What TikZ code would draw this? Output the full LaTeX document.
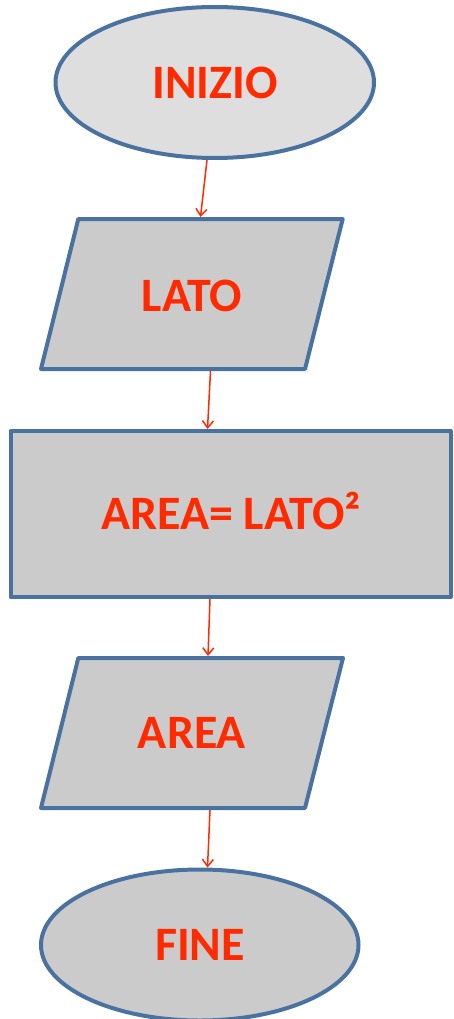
\documentclass[tikz,border=0pt]{standalone}
\usepackage{fontspec}
\setmainfont{Carlito}
\usetikzlibrary{arrows.meta}
\definecolor{edgeblue}{HTML}{4A72A0}
\definecolor{lightfill}{HTML}{DEDEDE}
\definecolor{boxfill}{HTML}{CBCBCB}
\definecolor{labelred}{HTML}{FF2A00}
\tikzset{
  shapeline/.style={draw=edgeblue, line width=4pt, line join=round},
  label text/.style={text=labelred, font=\fontsize{48}{56}\selectfont\bfseries, inner sep=0pt, anchor=base},
  flow/.style={draw=labelred, line width=1.5pt, -{Straight Barb[length=7pt,width=11pt,line width=1.5pt]}}
}
\begin{document}
\begin{tikzpicture}[x=1pt, y=-1pt]
  \useasboundingbox (0,0) rectangle (453,1019);

  % start terminal
  \draw[shapeline, fill=lightfill] (214.75,82.5) ellipse [x radius=159.25, y radius=75.5];
  \node[label text] (inizio) at (215,99) {INIZIO};

  % input: LATO
  \draw[shapeline, fill=boxfill] (78.3,219) -- (342.7,219) -- (305,369) -- (41,369) -- cycle;
  \node[label text] (lato) at (192,311) {LATO};

  % process: area computation
  \draw[shapeline, fill=boxfill] (10.5,431) rectangle (450.5,597);
  \node[label text] (calc) at (231,529.5) {AREA= LATO²};

  % output: AREA
  \draw[shapeline, fill=boxfill] (78.3,658) -- (343,658) -- (305,808) -- (41,808) -- cycle;
  \node[label text] (area) at (192,748) {AREA};

  % end terminal
  \draw[shapeline, fill=boxfill] (199.75,945) ellipse [x radius=158.75, y radius=75.5];
  \node[label text] (fine) at (200,960.7) {FINE};

  % connector end points on the shape borders
  \coordinate (inizioS) at (207,160);
  \coordinate (latoN) at (200.5,217);
  \coordinate (latoS) at (210.5,371);
  \coordinate (calcN) at (207.5,429);
  \coordinate (calcS) at (210,599);
  \coordinate (areaN) at (208,656);
  \coordinate (areaS) at (210,810);
  \coordinate (fineN) at (207.5,867.5);

  \draw[flow] (inizioS) -- (latoN);
  \draw[flow] (latoS) -- (calcN);
  \draw[flow] (calcS) -- (areaN);
  \draw[flow] (areaS) -- (fineN);
\end{tikzpicture}
\end{document}
